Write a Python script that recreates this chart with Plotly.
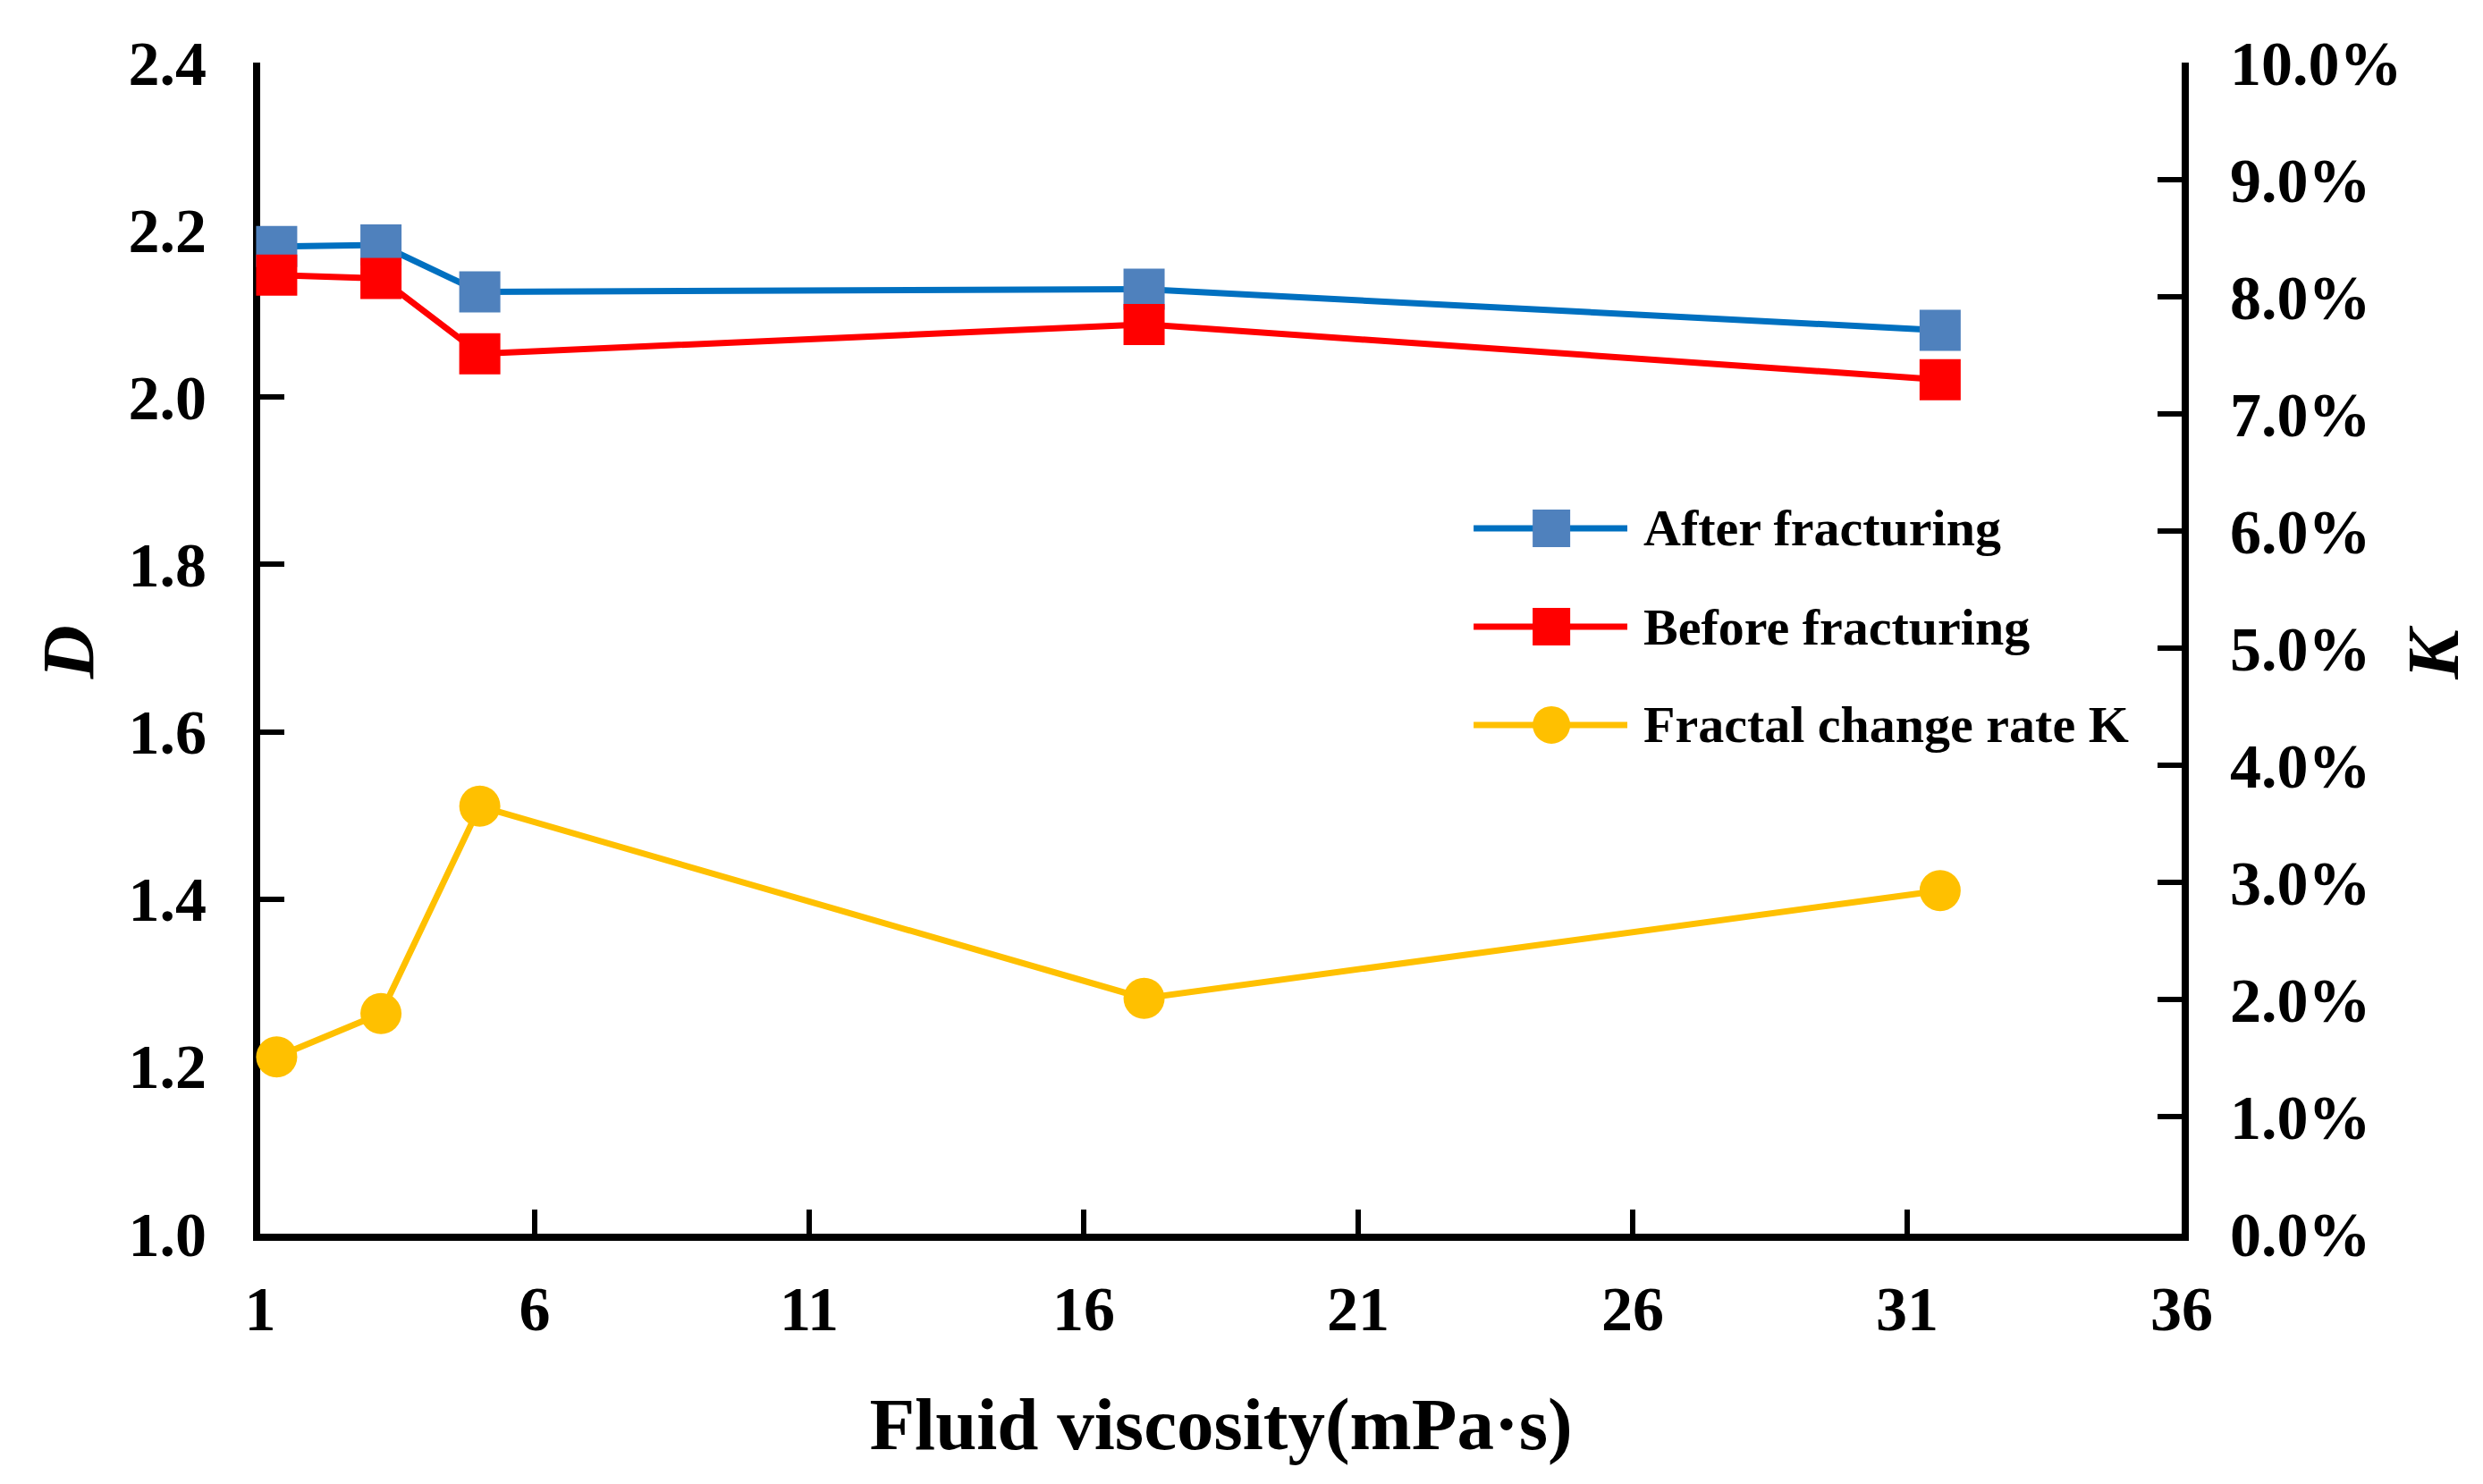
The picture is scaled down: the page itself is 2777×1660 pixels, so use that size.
import plotly.graph_objects as go

# ---- data ----
viscosity = [1.3, 3.2, 5.0, 17.1, 31.6]
d_after = [2.180, 2.182, 2.126, 2.129, 2.080]
d_before = [2.146, 2.142, 2.052, 2.087, 2.021]
k_rate = [0.0151, 0.0188, 0.0365, 0.0201, 0.0293]

names = ["After fracturing", "Before fracturing", "Fractal change rate K"]
line_colors = ["#0070C0", "#FF0000", "#FFC000"]
marker_colors = ["#4F81BD", "#FF0000", "#FFC000"]

FONT = "Liberation Serif"
W, H = 2777, 1660
L, R, T, B = 283, 345, 62, 288

fig = go.Figure()
fig.add_trace(go.Scatter(x=viscosity, y=d_after, name=names[0], mode="lines+markers",
                         line=dict(color=line_colors[0], width=7),
                         marker=dict(symbol="square", size=46, color=marker_colors[0]),
                         cliponaxis=False, showlegend=False))
fig.add_trace(go.Scatter(x=viscosity, y=d_before, name=names[1], mode="lines+markers",
                         line=dict(color=line_colors[1], width=7),
                         marker=dict(symbol="square", size=46, color=marker_colors[1]),
                         cliponaxis=False, showlegend=False))
fig.add_trace(go.Scatter(x=viscosity, y=k_rate, name=names[2], mode="lines+markers",
                         yaxis="y2",
                         line=dict(color=line_colors[2], width=7),
                         marker=dict(symbol="circle", size=46, color=marker_colors[2]),
                         cliponaxis=False, showlegend=False))

tickfont = dict(family=FONT, size=70, color="black", weight=700)
axis_common = dict(showgrid=False, zeroline=False, showline=True, linecolor="black",
                   linewidth=8, ticks="inside", ticklen=27, tickwidth=6, tickcolor="black",
                   tickfont=tickfont, layer="below traces")

fig.update_layout(
    width=W, height=H,
    margin=dict(l=L, r=R, t=T, b=B, autoexpand=False),
    paper_bgcolor="white", plot_bgcolor="white",
    xaxis=dict(range=[1, 36], tick0=1, dtick=5, ticklabelstandoff=16,
               title=dict(text="Fluid viscosity(mPa·s)", standoff=64,
                          font=dict(family=FONT, size=83, color="black", weight=700)),
               **axis_common),
    yaxis=dict(range=[1.0, 2.4], dtick=0.2, tickformat=".1f", ticklabelstandoff=38,
               **axis_common),
    yaxis2=dict(range=[0, 0.10], dtick=0.01, tickformat=".1%", overlaying="y", side="right",
                ticklabelstandoff=32,
                **axis_common),
)

# ---- rotated axis titles (italic D and K) ----
for txt, xp in (("D", -0.100), ("K", 1.131)):
    fig.add_annotation(x=xp, y=0.496, xref="paper", yref="paper", text=txt, textangle=-90,
                       showarrow=False, xanchor="center", yanchor="middle",
                       font=dict(family=FONT, size=83, color="black", weight=700, style="italic"))

# ---- custom legend (long line samples like the original) ----
leg_x0, leg_x1, leg_xm, leg_xt = 0.6315, 0.7115, 0.672, 0.719
leg_rows = [0.6023, 0.5183, 0.4344]
symbols = ["rect", "rect", "circle"]
for i in range(3):
    yy = leg_rows[i]
    fig.add_shape(type="line", xref="paper", yref="paper", x0=leg_x0, x1=leg_x1, y0=yy, y1=yy,
                  line=dict(color=line_colors[i], width=7))
    fig.add_shape(type=symbols[i], xref="paper", yref="paper",
                  xsizemode="pixel", ysizemode="pixel", xanchor=leg_xm, yanchor=yy,
                  x0=-21, x1=21, y0=-21, y1=21,
                  fillcolor=marker_colors[i], line=dict(width=0))
    fig.add_annotation(x=leg_xt, y=yy, xref="paper", yref="paper", text=names[i],
                       showarrow=False, xanchor="left", yanchor="middle",
                       font=dict(family=FONT, size=58, color="black", weight=700))

fig.write_html("out.html")
